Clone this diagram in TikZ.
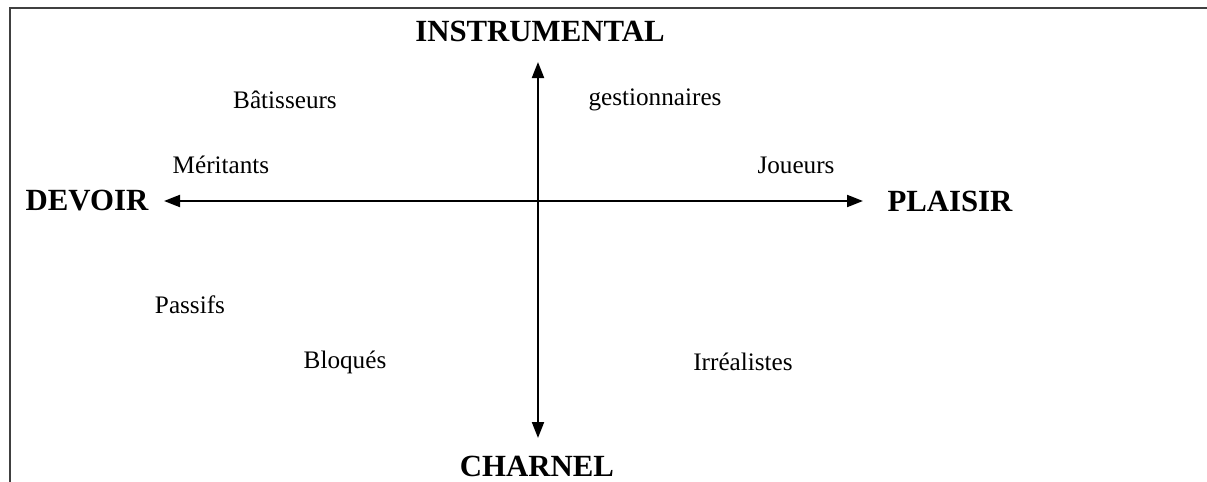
\documentclass[tikz,border=0pt]{standalone}
\usepackage{fontspec}
\setmainfont{Liberation Serif}
\usetikzlibrary{arrows.meta}

\tikzset{
  pole/.style={font=\fontsize{15.4}{18}\selectfont\bfseries,inner sep=0pt},
  profil/.style={font=\fontsize{12.6}{15}\selectfont,inner sep=0pt},
  axe/.style={line width=1pt,{Triangle[length=8pt,width=6pt]}-{Triangle[length=8pt,width=6pt]}}
}

\begin{document}
\begin{tikzpicture}[x=0.5pt,y=-0.5pt]
\useasboundingbox (0,0) rectangle (1207,482);
% cadre
\draw[line width=1.2pt,black!75](1207,8)--(10,8)--(10,482);
% les quatre poles
\node[pole](instr) at (540,31){INSTRUMENTAL};
\node[pole](devoir) at (87,201){DEVOIR};
\node[pole](plaisir) at (950,201){PLAISIR};
\node[pole](charnel) at (537,466){CHARNEL};
% extremites des axes
\coordinate (haut) at (538,62);
\coordinate (bas) at (538,438);
\coordinate (gauche) at (164,201);
\coordinate (droite) at (863,201);
\draw[axe](gauche)--(droite);
\draw[axe](haut)--(bas);
% profils
\node[profil](batisseurs) at (285,100){Bâtisseurs};
\node[profil](gestion) at (655,100){gestionnaires};
\node[profil](meritants) at (221,165){Méritants};
\node[profil](joueurs) at (796,165){Joueurs};
\node[profil](passifs) at (190,305){Passifs};
\node[profil](bloques) at (345,362){Bloqués};
\node[profil](irrealistes) at (743,362){Irréalistes};
\end{tikzpicture}
\end{document}
